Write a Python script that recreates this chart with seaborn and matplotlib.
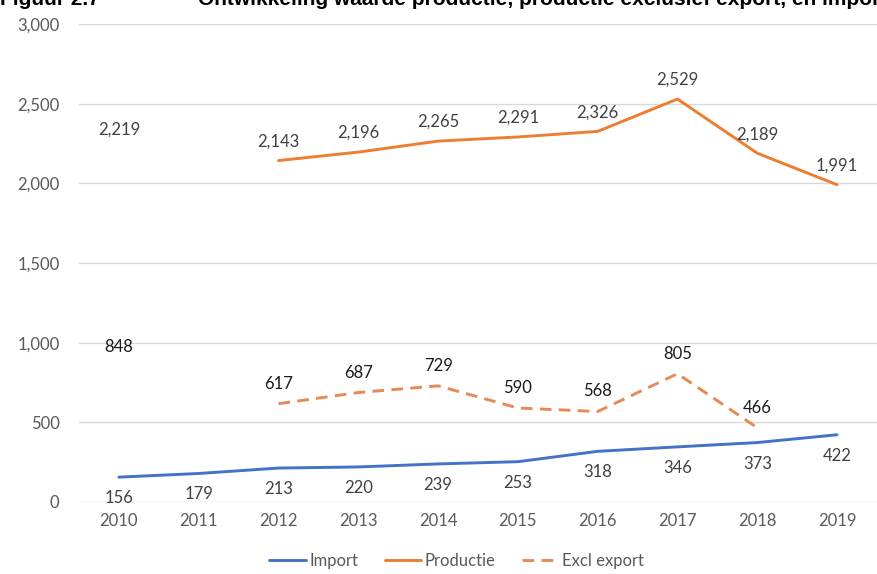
import numpy as np
import pandas as pd
import matplotlib
matplotlib.use("Agg")
import matplotlib.pyplot as plt
import seaborn as sns
from matplotlib.lines import Line2D

years = [2010, 2011, 2012, 2013, 2014, 2015, 2016, 2017, 2018, 2019]
import_vals = [156, 179, 213, 220, 239, 253, 318, 346, 373, 422]
productie_vals = [2219, np.nan, 2143, 2196, 2265, 2291, 2326, 2529, 2189, 1991]
excl_export_vals = [848, np.nan, 617, 687, 729, 590, 568, 805, 466, np.nan]
y_ticks = [0, 500, 1000, 1500, 2000, 2500, 3000]
title_text = "Figuur 2.7"
title_rest = "Ontwikkeling waarde productie, productie exclusief export, en import"

sns.set_theme(style="white")
plt.rcParams['font.family'] = ['Lato', 'DejaVu Sans']

df = pd.DataFrame({
    "Jaar": years,
    "Import": import_vals,
    "Productie": productie_vals,
    "Excl export": excl_export_vals,
})

fig = plt.figure(figsize=(8.78, 5.74), dpi=100)
ax = fig.add_axes([79 / 878, 1 - 502 / 574, (877 - 79) / 878, (502 - 24) / 574])

c_imp = "#4472C4"
c_prod = "#ED7D31"
c_excl = "#E58A55"


def plot_runs(col, color):
    s = df[["Jaar", col]].copy()
    valid = s[col].notna()
    grp = (valid != valid.shift()).cumsum()
    for _, seg in s[valid].groupby(grp[valid]):
        if len(seg) >= 2:
            sns.lineplot(data=seg, x="Jaar", y=col, color=color, lw=2.1, ax=ax)


plot_runs("Import", c_imp)
plot_runs("Productie", c_prod)
plot_runs("Excl export", c_excl)
for ln in ax.lines:
    if ln.get_color() == c_excl:
        ln.set_dashes([4, 2.5])

label_kw = dict(ha="center", va="center", fontsize=12)
for x, v in zip(years, import_vals):
    ax.annotate(f"{v:,.0f}", (x, v), xytext=(0, -21), textcoords="offset pixels",
                color="#404040", **label_kw)
for x, v in zip(years, productie_vals):
    if not np.isnan(v):
        ax.annotate(f"{v:,.0f}", (x, v), xytext=(0, 19), textcoords="offset pixels",
                    color="#404040", **label_kw)
for x, v in zip(years, excl_export_vals):
    if not np.isnan(v):
        ax.annotate(f"{v:,.0f}", (x, v), xytext=(0, 20), textcoords="offset pixels",
                    color="#1a1a1a", **label_kw)

ax.set_xlim(2009.5, 2019.5)
ax.set_ylim(0, 3000)
ax.set_yticks(y_ticks)
ax.set_yticklabels([f"{t:,}" for t in y_ticks])
ax.set_xticks(years)
ax.set_xticklabels([str(y) for y in years])
ax.tick_params(axis="both", labelsize=12, colors="#595959", length=0)
ax.tick_params(axis="y", pad=14)
ax.tick_params(axis="x", pad=8)
ax.yaxis.grid(True, color="#D9D9D9", lw=1)
ax.set_axisbelow(True)
for sp in ax.spines.values():
    sp.set_visible(False)
ax.set_xlabel("")
ax.set_ylabel("")

handles = [
    Line2D([], [], color=c_imp, lw=2.1),
    Line2D([], [], color=c_prod, lw=2.1),
    Line2D([], [], color=c_excl, lw=2.1, dashes=[4, 2.5]),
]
fig.legend(handles, ["Import", "Productie", "Excl export"], loc="center",
           bbox_to_anchor=(0.52, 1 - 561 / 574), ncol=3, frameon=False,
           fontsize=12, handlelength=2.2, handletextpad=0.2, columnspacing=1.6,
           labelcolor="#595959")

# Title is partly cut off at the top edge, as in the reference
fig.text(0.0, 1 - 5 / 574, title_text, ha="left", va="baseline", fontsize=15,
         fontweight="bold", family=["Liberation Sans", "DejaVu Sans"], color="black")
fig.text(198 / 878, 1 - 5 / 574, title_rest, ha="left", va="baseline", fontsize=15,
         fontweight="bold", family=["Liberation Sans", "DejaVu Sans"], color="black")

fig.savefig("out.png", dpi=100)
